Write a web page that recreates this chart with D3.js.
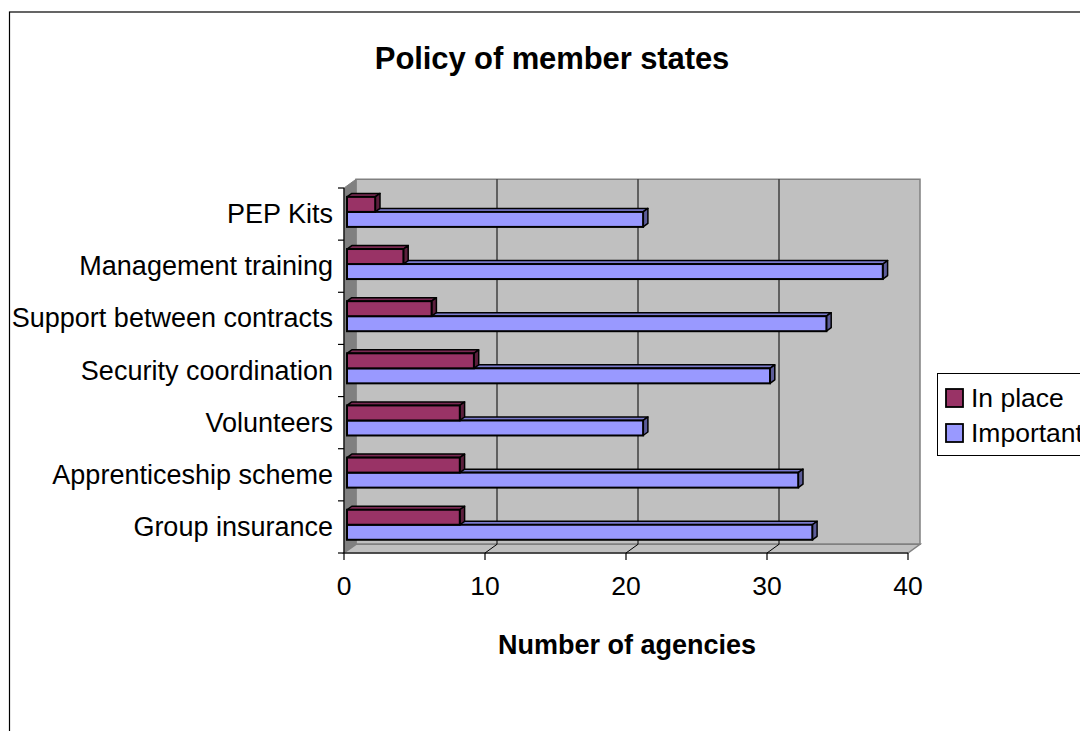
<!DOCTYPE html>
<html>
<head>
<meta charset="utf-8">
<script src="https://cdn.jsdelivr.net/npm/d3@7"></script>
<style>
  html, body { margin: 0; padding: 0; background: #fff; }
  svg { display: block; }
  text { font-family: "Liberation Sans", Arial, sans-serif; fill: #000; }
</style>
</head>
<body>
<svg id="chart" width="1080" height="731"></svg>
<script>
// Categories listed bottom to top
const categories = [
  "Group insurance",
  "Apprenticeship scheme",
  "Volunteers",
  "Security coordination",
  "Support between contracts",
  "Management training",
  "PEP Kits"
];
const inPlace   = [8, 8, 8, 9, 6, 4, 2];
const important = [33, 32, 21, 30, 34, 38, 21];
const seriesNames = ["In place", "Important"];
const xTicks = [0, 10, 20, 30, 40];

const colors = {
  "In place":  { front: "#993366", top: "#7a2952", side: "#5c1f3d" },
  "Important": { front: "#9999ff", top: "#7a7acc", side: "#5c5c99" }
};

const svg = d3.select("#chart");

// Front plane of the 3D box
const plotLeft = 344, plotRight = 908, plotTop = 188, plotBottom = 553;
// Full depth offset of the box (front -> back wall)
const DX = 12, DY = -8.7;
const proj = (px, py, d) => [px + DX * d, py + DY * d];

const x = d3.scaleLinear().domain([0, 40]).range([plotLeft, plotRight]);
const y = d3.scaleBand().domain(categories).range([plotBottom, plotTop]);

// Outer chart border
svg.append("rect")
  .attr("x", 9.5).attr("y", 12).attr("width", 1200).attr("height", 900)
  .attr("fill", "#fff").attr("stroke", "#000").attr("stroke-width", 1.2);

// Title
svg.append("text")
  .attr("x", 552).attr("y", 69)
  .attr("text-anchor", "middle")
  .style("font-size", "31px").style("font-weight", "bold")
  .style("letter-spacing", "-0.1px")
  .text("Policy of member states");

const poly = pts => "M" + pts.map(p => p.join(",")).join("L") + "Z";

// Back wall
const wall = svg.append("g");
wall.append("path")
  .attr("d", poly([proj(plotLeft, plotTop, 1), proj(plotRight, plotTop, 1), proj(plotRight, plotBottom, 1), proj(plotLeft, plotBottom, 1)]))
  .attr("fill", "#c0c0c0").attr("stroke", "#808080").attr("stroke-width", 1.5);
// Side wall
wall.append("path")
  .attr("d", poly([[plotLeft, plotTop], proj(plotLeft, plotTop, 1), proj(plotLeft, plotBottom, 1), [plotLeft, plotBottom]]))
  .attr("fill", "#808080").attr("stroke", "#808080").attr("stroke-width", 1);
// Floor
wall.append("path")
  .attr("d", poly([[plotLeft, plotBottom], [plotRight, plotBottom], proj(plotRight, plotBottom, 1), proj(plotLeft, plotBottom, 1)]))
  .attr("fill", "#c0c0c0").attr("stroke", "#808080").attr("stroke-width", 1.5);

// Gridlines on back wall and floor
const inner = xTicks.filter(t => t > 0 && t < 40);
wall.selectAll(".grid").data(inner).join("line")
  .attr("x1", d => proj(x(d), plotTop, 1)[0]).attr("x2", d => proj(x(d), plotTop, 1)[0])
  .attr("y1", proj(0, plotTop, 1)[1]).attr("y2", proj(0, plotBottom, 1)[1])
  .attr("stroke", "#000").attr("stroke-width", 1);
wall.selectAll(".floorgrid").data(inner).join("line")
  .attr("x1", d => x(d)).attr("y1", plotBottom)
  .attr("x2", d => proj(x(d), plotBottom, 1)[0]).attr("y2", proj(0, plotBottom, 1)[1])
  .attr("stroke", "#000").attr("stroke-width", 1);

// Bars
const dFront = 0.25, dBack = 0.65;
const bw = y.bandwidth();
const barH = bw * 0.288;
const gapOuter = (bw - 2 * barH) / 2;

function bar3d(g, x0, x1, y0, y1, c) {
  const f = (xx, yy, d) => proj(xx, yy, d);
  // top face
  g.append("path")
    .attr("d", poly([f(x0, y0, dFront), f(x1, y0, dFront), f(x1, y0, dBack), f(x0, y0, dBack)]))
    .attr("fill", c.top).attr("stroke", "#000").attr("stroke-width", 1.5).attr("stroke-linejoin", "round");
  // side face
  g.append("path")
    .attr("d", poly([f(x1, y0, dFront), f(x1, y0, dBack), f(x1, y1, dBack), f(x1, y1, dFront)]))
    .attr("fill", c.side).attr("stroke", "#000").attr("stroke-width", 1.5).attr("stroke-linejoin", "round");
  // front face
  const p0 = f(x0, y0, dFront), p1 = f(x1, y1, dFront);
  g.append("rect")
    .attr("x", p0[0]).attr("y", p0[1])
    .attr("width", p1[0] - p0[0]).attr("height", p1[1] - p0[1])
    .attr("fill", c.front).attr("stroke", "#000").attr("stroke-width", 2);
}

const bars = svg.append("g");
categories.forEach((cat, i) => {
  const y0 = y(cat) + gapOuter;
  // lower bar first so the upper bar's front face covers its top face
  bar3d(bars, x(0), x(important[i]), y0 + barH, y0 + 2 * barH, colors["Important"]);
  bar3d(bars, x(0), x(inPlace[i]), y0, y0 + barH, colors["In place"]);
});

// Axes on the front plane
const axes = svg.append("g");
axes.append("line")
  .attr("x1", plotLeft).attr("x2", plotLeft).attr("y1", plotTop).attr("y2", plotBottom)
  .attr("stroke", "#000").attr("stroke-width", 1.2);
axes.append("line")
  .attr("x1", plotLeft).attr("x2", plotRight).attr("y1", plotBottom).attr("y2", plotBottom)
  .attr("stroke", "#000").attr("stroke-width", 1.2);

// Category ticks at band boundaries
const yEdges = categories.map(c => y(c)).concat([plotBottom]);
axes.selectAll(".ytick").data(yEdges).join("line")
  .attr("x1", plotLeft - 6).attr("x2", plotLeft).attr("y1", d => d).attr("y2", d => d)
  .attr("stroke", "#000").attr("stroke-width", 1.2);

axes.selectAll(".ylabel").data(categories).join("text")
  .attr("x", 333).attr("y", d => y(d) + bw / 2)
  .attr("text-anchor", "end").attr("dominant-baseline", "central")
  .style("font-size", "27px")
  .text(d => d);

// Value ticks
axes.selectAll(".xtick").data(xTicks).join("line")
  .attr("x1", d => x(d)).attr("x2", d => x(d)).attr("y1", plotBottom).attr("y2", plotBottom + 7)
  .attr("stroke", "#000").attr("stroke-width", 1.2);
axes.selectAll(".xlabel").data(xTicks).join("text")
  .attr("x", d => x(d)).attr("y", 595)
  .attr("text-anchor", "middle")
  .style("font-size", "26.5px")
  .text(d => d);

// Axis title
svg.append("text")
  .attr("x", 627).attr("y", 654)
  .attr("text-anchor", "middle")
  .style("font-size", "27px").style("font-weight", "bold")
  .text("Number of agencies");

// Legend
const legend = svg.append("g");
legend.append("rect")
  .attr("x", 937.5).attr("y", 373.5).attr("width", 200).attr("height", 82)
  .attr("fill", "#fff").attr("stroke", "#000").attr("stroke-width", 1);
const rows = legend.selectAll(".row").data(seriesNames).join("g")
  .attr("transform", (d, i) => `translate(946, ${389 + i * 35})`);
rows.append("rect")
  .attr("width", 17).attr("height", 18)
  .attr("fill", d => colors[d].front).attr("stroke", "#000").attr("stroke-width", 1.8);
rows.append("text")
  .attr("x", 25).attr("y", 18)
  .style("font-size", "26.5px")
  .text(d => d);
</script>
</body>
</html>
